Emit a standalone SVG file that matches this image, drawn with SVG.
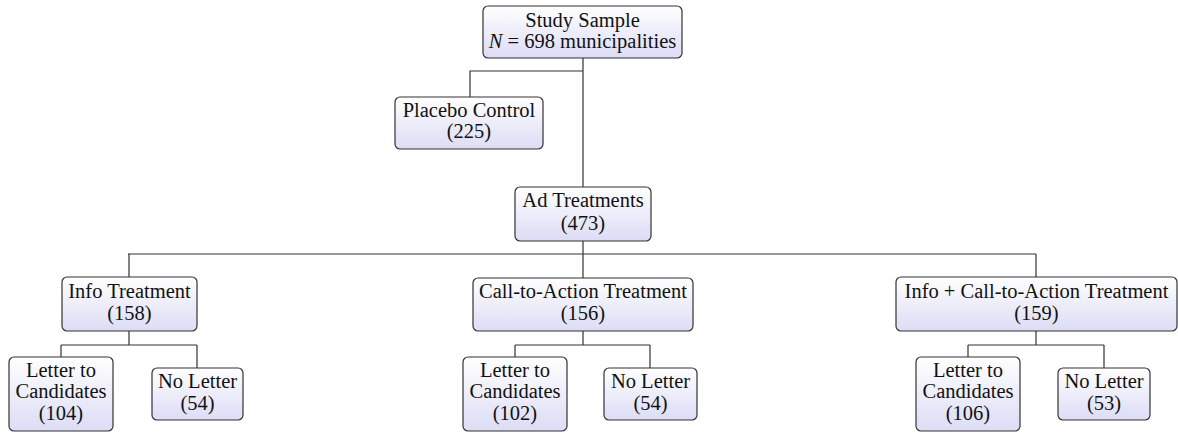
<svg xmlns="http://www.w3.org/2000/svg" width="1178" height="434" viewBox="0 0 1178 434">
<defs>
<linearGradient id="g" x1="0" y1="0" x2="0" y2="1">
<stop offset="0" stop-color="#ffffff"/>
<stop offset="1" stop-color="#dcdcf6"/>
</linearGradient>
</defs>
<style>
.box{fill:url(#g);stroke:#333;stroke-width:1.2}
.c{fill:none;stroke:#333;stroke-width:1.2}
.t{font-family:"Liberation Serif",serif;font-size:20.5px;fill:#111;text-anchor:middle}
</style>
<rect width="1178" height="434" fill="#fff"/>
<g id="connectors">
<path class="c" d="M583,58 V187 M583,71 H470 V97"/>
<path class="c" d="M583,241 V254 M128,254 H1036 M129,254 V277 M583,254 V278 M1036,254 V277"/>
<path class="c" d="M129,331 V345 M61,345 H197 M61,345 V357 M197,345 V368"/>
<path class="c" d="M583,331 V345 M515,345 H650 M515,345 V357 M650,345 V368"/>
<path class="c" d="M1036,331 V345 M968,345 H1104 M968,345 V357 M1104,345 V368"/>
</g>
<g id="study">
<rect class="box" x="483" y="6" width="199" height="52" rx="5"/>
<text class="t" x="582.5" y="27">Study Sample</text>
<text class="t" x="582.5" y="48"><tspan font-style="italic">N</tspan> = 698 municipalities</text>
</g>
<g id="placebo">
<rect class="box" x="395" y="97" width="148" height="52" rx="5"/>
<text class="t" x="469" y="117">Placebo Control</text>
<text class="t" x="469" y="138">(225)</text>
</g>
<g id="ad">
<rect class="box" x="515" y="187" width="136" height="54" rx="5"/>
<text class="t" x="583" y="207">Ad Treatments</text>
<text class="t" x="583" y="230">(473)</text>
</g>
<g id="info">
<rect class="box" x="62" y="277" width="135" height="54" rx="5"/>
<text class="t" x="129.5" y="298">Info Treatment</text>
<text class="t" x="129.5" y="320">(158)</text>
</g>
<g id="cta">
<rect class="box" x="473" y="278" width="220" height="53" rx="5"/>
<text class="t" x="583" y="298">Call-to-Action Treatment</text>
<text class="t" x="583" y="320">(156)</text>
</g>
<g id="infocta">
<rect class="box" x="896" y="277" width="281" height="54" rx="5"/>
<text class="t" x="1036.5" y="298">Info + Call-to-Action Treatment</text>
<text class="t" x="1036.5" y="320">(159)</text>
</g>
<g id="info-letter">
<rect class="box" x="9" y="357" width="104" height="74" rx="5"/>
<text class="t" x="61" y="377">Letter to</text>
<text class="t" x="61" y="398">Candidates</text>
<text class="t" x="61" y="420">(104)</text>
</g>
<g id="info-noletter">
<rect class="box" x="152" y="368" width="91" height="52" rx="5"/>
<text class="t" x="197.5" y="388">No Letter</text>
<text class="t" x="197.5" y="410">(54)</text>
</g>
<g id="cta-letter">
<rect class="box" x="463" y="357" width="104" height="74" rx="5"/>
<text class="t" x="515" y="377">Letter to</text>
<text class="t" x="515" y="398">Candidates</text>
<text class="t" x="515" y="420">(102)</text>
</g>
<g id="cta-noletter">
<rect class="box" x="604" y="368" width="93" height="52" rx="5"/>
<text class="t" x="650.5" y="388">No Letter</text>
<text class="t" x="650.5" y="410">(54)</text>
</g>
<g id="infocta-letter">
<rect class="box" x="916" y="357" width="104" height="74" rx="5"/>
<text class="t" x="968" y="377">Letter to</text>
<text class="t" x="968" y="398">Candidates</text>
<text class="t" x="968" y="420">(106)</text>
</g>
<g id="infocta-noletter">
<rect class="box" x="1058" y="368" width="92" height="52" rx="5"/>
<text class="t" x="1104" y="388">No Letter</text>
<text class="t" x="1104" y="410">(53)</text>
</g>
</svg>
